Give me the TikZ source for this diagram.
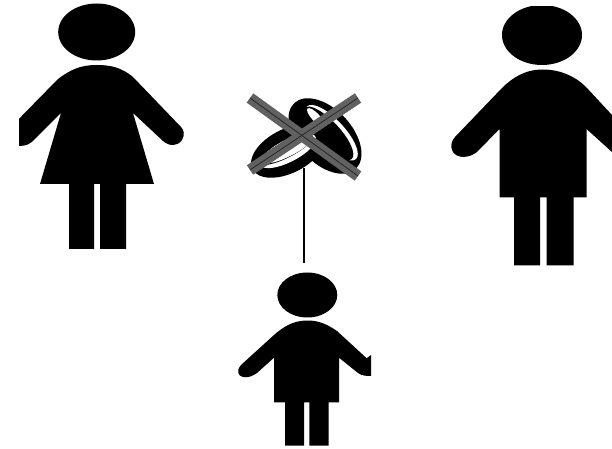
\documentclass[tikz,border=0pt]{standalone}
\begin{document}
\begin{tikzpicture}[x=0.75pt,y=-0.75pt,
  fig/.style={fill=black,draw=none},
  xbar/.style={draw=black!62,line width=8.5pt,line cap=butt},
  xcore/.style={draw=black!85,line width=0.6pt}]
\useasboundingbox (0,0) rectangle (612,449);
\fill[white] (0,0) rectangle (612,449);
% woman
\begin{scope}
\clip (19,0) rectangle (612,449);
\fill[fig] (96.7,32) ellipse [x radius=38.5,y radius=28.5];
\fill[fig] (96.7,65) .. controls (80,65) and (70,70) .. (58,79) -- (10,128)
  .. controls (0,140) and (10,146) .. (19,146) .. controls (26,146) and (30,144) .. (34,140)
  -- (61,113) -- (40,184) -- (69,184) -- (69,249) -- (94,249) -- (94,184) -- (100,184)
  -- (100,249) -- (126,249) -- (126,184) -- (154,184) -- (133,113) -- (163,141)
  .. controls (170,147) and (178,146) .. (182,140) .. controls (185,135) and (184,130) .. (181,127)
  -- (133,77) .. controls (122,68) and (112,65) .. (96.7,65) -- cycle;
\end{scope}
% man
\begin{scope}
\clip (440,7) rectangle (612,449);
\fill[fig] (542,35) ellipse [x radius=40,y radius=30];
\fill[fig] (542.5,69.5) .. controls (525,69.5) and (512,78) .. (502,88) -- (455,137)
  .. controls (449,144) and (451,152) .. (456,155) .. controls (463,159) and (472,156) .. (477,152)
  -- (499.5,129) -- (499.5,197.5) -- (514,197.5) -- (514,265.5) -- (540,265.5) -- (540,197.5)
  -- (546.5,197.5) -- (546.5,265.5) -- (573.5,265.5) -- (573.5,197.5) -- (586.5,197.5)
  -- (586.5,129) -- (612,152) -- (620,152) -- (620,122) -- (612,115) -- (586,87)
  .. controls (575,76) and (560,69.5) .. (542.5,69.5) -- cycle;
\end{scope}
% child
\begin{scope}
\clip (230,262) rectangle (371,449);
\fill[fig] (307.3,295) ellipse [x radius=30,y radius=22.5];
\fill[fig] (307.3,320.5) .. controls (292,320.5) and (282,328) .. (274,335) -- (241,365)
  .. controls (236,371) and (238,376) .. (243,377) .. controls (250,378) and (254,375) .. (257,373)
  -- (274,357.7) -- (274,402.3) -- (285,402.3) -- (285,445.7) -- (304,445.7) -- (304,402.3)
  -- (309.3,402.3) -- (309.3,445.7) -- (328.7,445.7) -- (328.7,402.3) -- (339,402.3)
  -- (339,357.7) -- (358,373) .. controls (362,376) and (367,376) .. (371,376) -- (376,376)
  -- (376,350) -- (371,355) -- (366.7,358.3) -- (337,331) .. controls (328,325) and (320,320.5) .. (307.3,320.5) -- cycle;
\end{scope}
% rings
\coordinate (ringsbase) at (304,168);
\coordinate (childtop) at (304,263);
\draw[black,line width=0.8pt] (ringsbase) -- (childtop);
% right ring
\begin{scope}[shift={(325,136)},rotate=-47]
\fill[black] (0,0) ellipse [x radius=45,y radius=27];
\fill[white] (2,-7) ellipse [x radius=36,y radius=13];
\fill[black] (0,-4) ellipse [x radius=35,y radius=12];
\fill[white] (-20,-6) ellipse [x radius=12,y radius=4];
\end{scope}
% left ring
\begin{scope}[shift={(288,151)},rotate=27]
\fill[black] (0,0) ellipse [x radius=40,y radius=22];
\fill[white] (0,0) ellipse [x radius=31,y radius=11];
\fill[black] (-1,-2) ellipse [x radius=30,y radius=8];
\fill[white] (1,-0.5) ellipse [x radius=26,y radius=6];
\end{scope}
% cross
\coordinate (xa) at (250,98); \coordinate (xb) at (358,176);
\coordinate (xc) at (250,170); \coordinate (xd) at (358,98);
\draw[xbar] (xa) -- (xb); \draw[xbar] (xc) -- (xd);
\draw[xcore] (xa) -- (xb); \draw[xcore] (xc) -- (xd);
\end{tikzpicture}
\end{document}
